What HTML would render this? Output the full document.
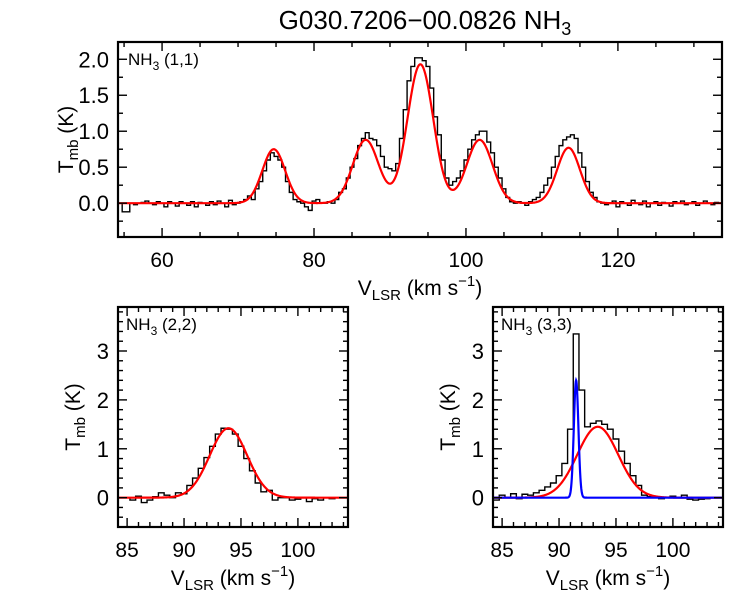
<!DOCTYPE html>
<html><head><meta charset="utf-8"><style>
body{margin:0;background:#fff;}
svg{display:block;font-family:"Liberation Sans",sans-serif;}
</style></head><body>
<svg id="c" width="750" height="600" viewBox="0 0 750 600"></svg>
<script>
// ---- data ----
const topVelStart = 54.5;
const topVelStep = 0.5;
const topObs = [0.0,-0.12,-0.12,0.0,-0.02,0.0,0.01,0.03,0.0,-0.02,0.02,0.0,-0.05,0.02,0.0,-0.04,0.02,
0.0,-0.03,0.02,-0.05,0.01,0.0,-0.03,0.02,-0.02,0.03,0.0,-0.05,0.04,-0.02,0.0,0.02,
0.05,0.1,0.05,0.2,0.3,0.45,0.6,0.7,0.65,0.6,0.5,0.3,0.15,0.05,0.02,0.0,-0.05,-0.1,
0.03,0.05,0.0,0.0,0.02,0.0,0.05,0.15,0.2,0.35,0.5,0.62,0.8,0.9,0.98,0.9,0.88,0.8,0.65,0.5,0.48,0.45,
0.55,0.9,1.3,1.7,1.9,2.02,2.02,1.98,1.9,1.6,1.2,0.95,0.6,0.35,0.25,0.3,0.35,0.45,
0.6,0.75,0.88,0.95,1.0,1.0,0.85,0.7,0.5,0.35,0.2,0.08,0.02,0.0,0.02,0.0,-0.03,0.02,
0.05,0.08,0.15,0.25,0.35,0.5,0.65,0.8,0.88,0.92,0.95,0.9,0.7,0.5,0.3,0.15,0.08,0.02,0.0,-0.02,
0.0,0.03,-0.05,0.02,0.0,-0.03,0.04,0.0,-0.02,0.03,-0.05,0.0,0.02,-0.03,0.01,0.0,-0.04,0.02,0.0,0.03,-0.02,0.0,0.02,-0.03,0.0,0.03,0.0,-0.02,0.01,0.0,0.02];
const topVel = topObs.map((_, i) => topVelStart + i * topVelStep);
const topFitCenters = [74.7,86.8,94.0,101.8,113.5];
const topFitAmps = [0.75,0.88,1.93,0.88,0.77];
const topFitSigmas = [1.5,1.7,1.7,1.7,1.5];

const p22Vel = [84.5,85,85.5,86,86.5,87,87.5,88,88.5,89,89.5,90,90.5,91,91.5,92,92.5,93,93.5,94,94.5,95,95.5,96,96.5,97,97.5,98,98.5,99,99.5,100,100.5,101,101.5,102,102.5,103,103.5];
const p22Obs = [0.0,0.0,-0.05,0.03,-0.1,-0.05,0.02,0.1,0.05,0.0,0.1,0.08,0.25,0.4,0.6,0.82,1.05,1.3,1.42,1.4,1.3,1.05,0.8,0.55,0.3,0.12,0.15,-0.05,0.0,0.0,-0.05,-0.03,0.0,-0.08,-0.02,-0.05,0.0,-0.02,0.0];
const p22FitCenters = [93.9];
const p22FitAmps = [1.42];
const p22FitSigmas = [1.65];

const p33Vel = [84.5,85,85.5,86,86.5,87,87.5,88,88.5,89,89.5,90,90.5,91,91.5,92,92.5,93,93.5,94,94.5,95,95.5,96,96.5,97,97.5,98,98.5,99,99.5,100,100.5,101,101.5,102,102.5,103,103.5];
const p33Obs = [-0.05,0.05,0.0,0.08,-0.02,0.07,0.05,0.1,0.15,0.22,0.3,0.45,0.7,1.4,3.35,2.2,1.45,1.52,1.57,1.5,1.4,1.2,0.95,0.7,0.45,0.25,0.05,0.02,0.0,-0.02,0.0,0.03,0.0,0.05,-0.03,-0.05,-0.03,-0.02,0.0];
const p33RedCenters = [93.4];
const p33RedAmps = [1.45];
const p33RedSigmas = [1.8];
const p33BlueCenters = [91.5];
const p33BlueAmps = [2.4];
const p33BlueSigmas = [0.2];

// ---- drawing ----
const NS="http://www.w3.org/2000/svg";
const svg=document.getElementById('c');
function mk(tag,attrs,parent){const e=document.createElementNS(NS,tag);for(const k in attrs)e.setAttribute(k,attrs[k]);(parent||svg).appendChild(e);return e;}
function gauss(x,cs,as,ss){let s=0;for(let i=0;i<cs.length;i++)s+=as[i]*Math.exp(-0.5*((x-cs[i])/ss[i])**2);return s;}

function panel(o){
  const g=mk('g',{});
  
  
  const sx=v=>o.x0+(v-o.xmin)/(o.xmax-o.xmin)*(o.x1-o.x0);
  const sy=v=>o.y1-(v-o.ymin)/(o.ymax-o.ymin)*(o.y1-o.y0);
  const cp='cp'+o.name;
  const defs=mk('defs',{},g);const clip=mk('clipPath',{id:cp},defs);mk('rect',{x:o.x0,y:o.y0,width:o.x1-o.x0,height:o.y1-o.y0},clip);
  const hw=(o.vel[1]-o.vel[0])/2;
  let d='';
  o.vel.forEach((v,i)=>{const y=sy(o.obs[i]);d+=(i?'L':'M')+sx(v-hw)+','+y+'L'+sx(v+hw)+','+y;});
  const h=mk('path',{d:d,fill:'none',stroke:'#000','stroke-width':1.4,'clip-path':`url(#${cp})`},g);
  
  
  o.fits.forEach(f=>{
    let pd='';
    for(let i=0;i<=800;i++){const x=o.xmin+(o.xmax-o.xmin)*i/800;pd+=(i?'L':'M')+sx(x).toFixed(2)+','+sy(gauss(x,f.c,f.a,f.s)).toFixed(2);}
    const p=mk('path',{d:pd,fill:'none',stroke:f.color,'stroke-width':2.2,'clip-path':`url(#${cp})`},g);
    
    
  });
  mk('rect',{x:o.x0,y:o.y0,width:o.x1-o.x0,height:o.y1-o.y0,fill:'none',stroke:'#000','stroke-width':2.2},g);
  const nx=Math.round((o.xmax-o.xmin)/o.xminor)+2;
  for(let k=0;k<nx;k++){
    const v=Math.ceil(o.xmin/o.xminor)*o.xminor+k*o.xminor; if(v>o.xmax)break;
    const r=Math.round(v/o.xmajor);const major=Math.abs(v/o.xmajor-r)<1e-6;const L=major?9:5;const X=sx(v);
    mk('line',{x1:X,x2:X,y1:o.y1,y2:o.y1-L,stroke:'#000','stroke-width':1.4},g);
    mk('line',{x1:X,x2:X,y1:o.y0,y2:o.y0+L,stroke:'#000','stroke-width':1.4},g);
    if(major){const t=mk('text',{x:X,y:o.y1+30,'text-anchor':'middle','font-size':21},g);t.textContent=Math.round(v);
      }
  }
  const ny=Math.round((o.ymax-o.ymin)/o.yminor)+2;
  for(let k=0;k<ny;k++){
    const v=Math.round((Math.ceil(o.ymin/o.yminor-1e-6)*o.yminor+k*o.yminor)*1000)/1000; if(v>o.ymax+1e-6)break;
    const major=Math.abs(v/o.ymajor-Math.round(v/o.ymajor))<1e-6;const L=major?9:5;const Y=sy(v);
    mk('line',{x1:o.x0,x2:o.x0+L,y1:Y,y2:Y,stroke:'#000','stroke-width':1.4},g);
    mk('line',{x1:o.x1,x2:o.x1-L,y1:Y,y2:Y,stroke:'#000','stroke-width':1.4},g);
    if(major){const t=mk('text',{x:o.x0-9,y:Y+8,'text-anchor':'end','font-size':22},g);t.textContent=(Math.abs(v)<1e-9?0:v).toFixed(o.ydec);
      }
  }
  const lab=mk('text',{x:o.x0+(o.labdx||8),y:o.y0+23,'font-size':17},g);
  lab.innerHTML=`NH<tspan font-size="12" dy="5">3</tspan><tspan dy="-5"> (${o.label})</tspan>`;
  
  const xt=mk('text',{x:(o.x0+o.x1)/2,y:o.y1+58,'text-anchor':'middle','font-size':21},g);
  xt.innerHTML='V<tspan font-size="15" dy="5">LSR</tspan><tspan dy="-5"> (km s</tspan><tspan font-size="15" dy="-9">−1</tspan><tspan dy="9">)</tspan>';
  
  const cy=(o.y0+o.y1)/2;
  const yt=mk('text',{x:0,y:0,'text-anchor':'middle','font-size':21,transform:`translate(${o.ytx},${cy}) rotate(-90)`},g);
  yt.innerHTML='T<tspan font-size="15" dy="5">mb</tspan><tspan dy="-5"> (K)</tspan>';
  
}

const title=mk('text',{x:425,y:29,'text-anchor':'middle','font-size':26});
title.innerHTML='G030.7206−00.0826 NH<tspan font-size="18" dy="6">3</tspan>';



panel({name:'panel-nh3-11',x0:118,x1:722,y0:42,y1:237,xmin:54.2,xmax:133.7,ymin:-0.47,ymax:2.24,
  xmajor:20,xminor:5,ymajor:0.5,yminor:0.25,ydec:1,vel:topVel,obs:topObs,label:'1,1',labdx:10,ytx:73,
  fits:[{c:topFitCenters,a:topFitAmps,s:topFitSigmas,color:'#ff0000',name:'fit-curve'}]});
panel({name:'panel-nh3-22',x0:118,x1:348,y0:307,y1:527,xmin:84.2,xmax:104.4,ymin:-0.6,ymax:3.9,
  xmajor:5,xminor:1,ymajor:1,yminor:0.2,ydec:0,vel:p22Vel,obs:p22Obs,label:'2,2',ytx:80,
  fits:[{c:p22FitCenters,a:p22FitAmps,s:p22FitSigmas,color:'#ff0000',name:'fit-curve'}]});
panel({name:'panel-nh3-33',x0:493,x1:723,y0:307,y1:527,xmin:84.2,xmax:104.4,ymin:-0.6,ymax:3.9,
  xmajor:5,xminor:1,ymajor:1,yminor:0.2,ydec:0,vel:p33Vel,obs:p33Obs,label:'3,3',ytx:455,
  fits:[{c:p33RedCenters,a:p33RedAmps,s:p33RedSigmas,color:'#ff0000',name:'broad-fit-curve'},
        {c:p33BlueCenters,a:p33BlueAmps,s:p33BlueSigmas,color:'#0000ff',name:'narrow-fit-curve'}]});
</script>
</body></html>
